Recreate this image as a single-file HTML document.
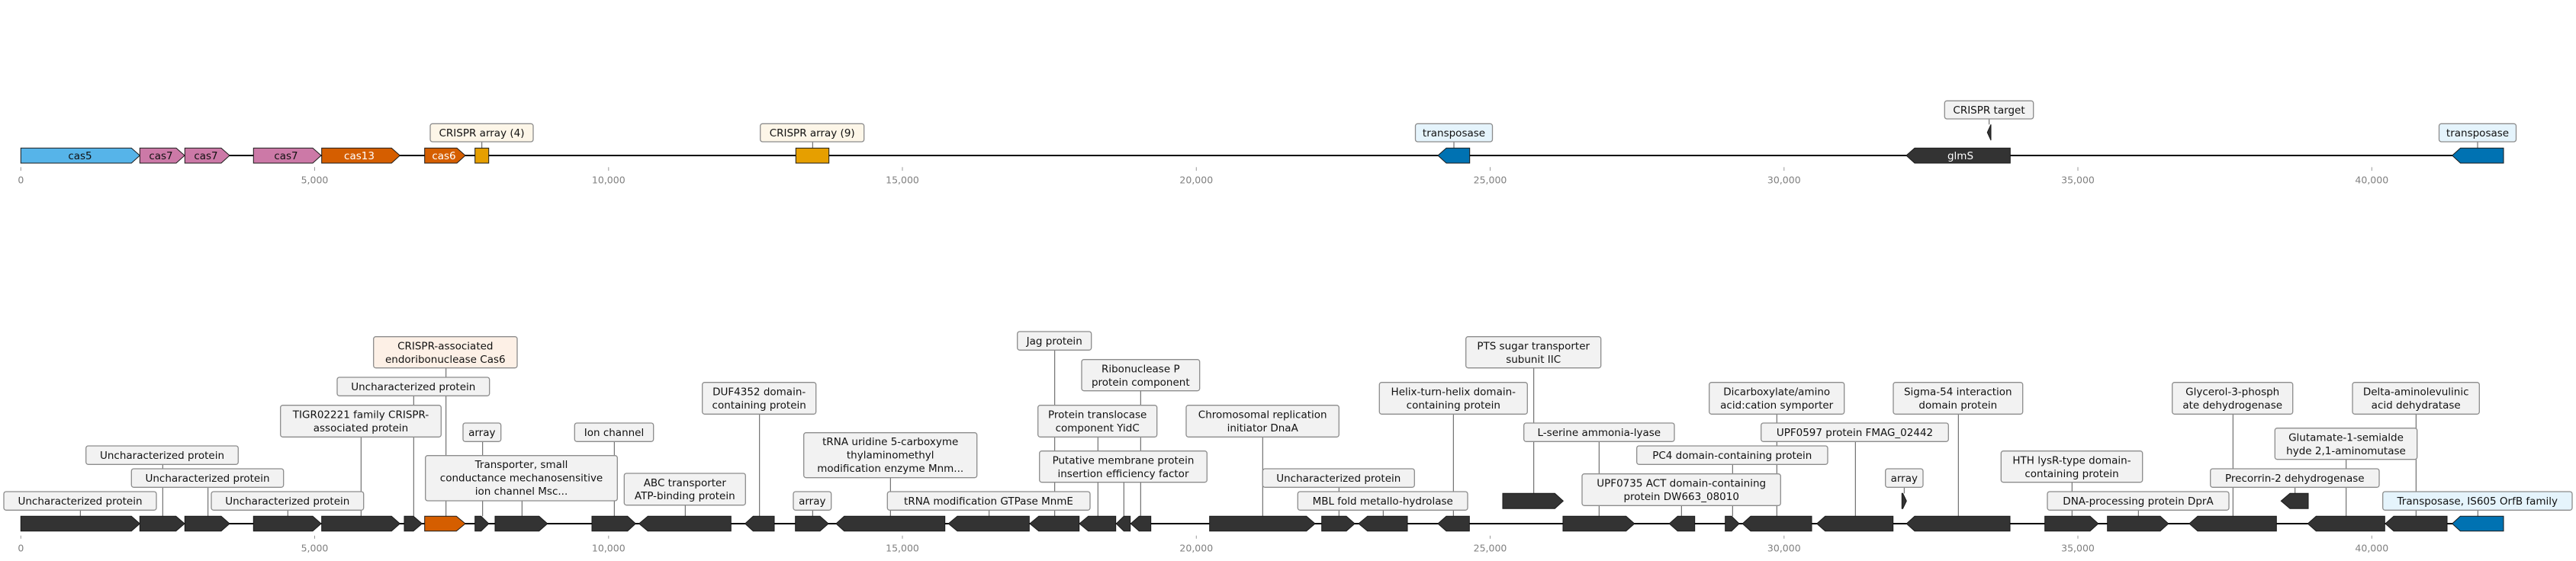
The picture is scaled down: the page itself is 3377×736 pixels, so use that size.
<!DOCTYPE html>
<html><head><meta charset="utf-8"><style>
html,body{margin:0;padding:0;background:#fff;}
svg{display:block;font-family:"DejaVu Sans","Liberation Sans",sans-serif;}
.g{stroke:#1a1a1a;stroke-width:1;}
.d{fill:#333333;}
.ld{stroke:#555;stroke-width:1;}
.bx{fill:#f2f2f2;stroke:#8c8c8c;stroke-width:1.3;}
.t{font-size:13.5px;fill:#111;text-anchor:middle;}
.tk{stroke:#999;stroke-width:1;}
.tl{font-size:12.5px;fill:#808080;text-anchor:middle;}
</style></head><body>
<svg width="3377" height="736" viewBox="0 0 3377 736" xmlns="http://www.w3.org/2000/svg">
<!-- ===== TOP TRACK ===== -->
<line x1="27.3" y1="204" x2="3282" y2="204" stroke="#000" stroke-width="2"/>
<g class="tk">
<line x1="27.3" y1="219.3" x2="27.3" y2="224"/><line x1="412.5" y1="219.3" x2="412.5" y2="224"/><line x1="797.8" y1="219.3" x2="797.8" y2="224"/><line x1="1183" y1="219.3" x2="1183" y2="224"/><line x1="1568.3" y1="219.3" x2="1568.3" y2="224"/><line x1="1953.5" y1="219.3" x2="1953.5" y2="224"/><line x1="2338.8" y1="219.3" x2="2338.8" y2="224"/><line x1="2724" y1="219.3" x2="2724" y2="224"/><line x1="3109.3" y1="219.3" x2="3109.3" y2="224"/>
</g>
<g class="tl">
<text x="27.3" y="240.5">0</text><text x="412.5" y="240.5">5,000</text><text x="797.8" y="240.5">10,000</text><text x="1183" y="240.5">15,000</text><text x="1568.3" y="240.5">20,000</text><text x="1953.5" y="240.5">25,000</text><text x="2338.8" y="240.5">30,000</text><text x="2724" y="240.5">35,000</text><text x="3109.3" y="240.5">40,000</text>
</g>
<g class="ld">
<line x1="631.7" y1="186" x2="631.7" y2="194.3"/><line x1="1065.3" y1="186" x2="1065.3" y2="194.3"/><line x1="1906" y1="186" x2="1906" y2="194.3"/><line x1="3248" y1="186" x2="3248" y2="194.3"/><line x1="2607.7" y1="156" x2="2607.7" y2="163.3"/>
</g>
<g class="g">
<polygon fill="#56b4e9" points="27.3,194.3 172.3,194.3 183.3,204 172.3,214 27.3,214"/>
<polygon fill="#cc79a7" points="183.3,194.3 231,194.3 242,204 231,214 183.3,214"/>
<polygon fill="#cc79a7" points="242.3,194.3 290,194.3 301,204 290,214 242.3,214"/>
<polygon fill="#cc79a7" points="332.3,194.3 410,194.3 421,204 410,214 332.3,214"/>
<polygon fill="#d55e00" points="421.7,194.3 513.3,194.3 524.3,204 513.3,214 421.7,214"/>
<polygon fill="#d55e00" points="556.7,194.3 599,194.3 610,204 599,214 556.7,214"/>
<rect fill="#e69f00" x="622.7" y="194.3" width="18" height="19.7"/>
<rect fill="#e69f00" x="1043.3" y="194.3" width="43.4" height="19.7"/>
<polygon fill="#0072b2" points="1885,204 1896,194.3 1926.7,194.3 1926.7,214 1896,214"/>
<polygon fill="#333" points="2499,204 2510,194.3 2635.3,194.3 2635.3,214 2510,214"/>
<polygon fill="#0072b2" points="3214.7,204 3225.5,194.3 3282,194.3 3282,214 3225.5,214"/>
<polygon fill="#333" points="2605.3,173.7 2610,163.3 2610,184"/>
</g>
<g class="t">
<text x="105" y="208.8">cas5</text>
<text x="211" y="208.8">cas7</text>
<text x="270" y="208.8">cas7</text>
<text x="375" y="208.8">cas7</text>
<text x="471" y="208.8" style="fill:#fff">cas13</text>
<text x="582" y="208.8" style="fill:#fff">cas6</text>
<text x="2570" y="208.8" style="fill:#fff">glmS</text>
</g>
<rect class="bx" style="fill:#fdf6e8" x="564" y="162.3" width="135" height="23.7" rx="3"/><text class="t" x="631.5" y="179">CRISPR array (4)</text>
<rect class="bx" style="fill:#fdf6e8" x="996.7" y="162.3" width="136" height="23.7" rx="3"/><text class="t" x="1064.7" y="179">CRISPR array (9)</text>
<rect class="bx" style="fill:#e5f4fc" x="1855.5" y="162.3" width="101" height="23.7" rx="3"/><text class="t" x="1906" y="179">transposase</text>
<rect class="bx" style="fill:#e5f4fc" x="3197.5" y="162.3" width="101" height="23.7" rx="3"/><text class="t" x="3248" y="179">transposase</text>
<rect class="bx" x="2549.3" y="132.3" width="116.4" height="23.7" rx="3"/><text class="t" x="2607.5" y="149">CRISPR target</text>

<!-- ===== BOTTOM TRACK ===== -->
<line x1="27.3" y1="687" x2="3282" y2="687" stroke="#000" stroke-width="2"/>
<g class="tk">
<line x1="27.3" y1="702.7" x2="27.3" y2="706.7"/><line x1="412.5" y1="702.7" x2="412.5" y2="706.7"/><line x1="797.8" y1="702.7" x2="797.8" y2="706.7"/><line x1="1183" y1="702.7" x2="1183" y2="706.7"/><line x1="1568.3" y1="702.7" x2="1568.3" y2="706.7"/><line x1="1953.5" y1="702.7" x2="1953.5" y2="706.7"/><line x1="2338.8" y1="702.7" x2="2338.8" y2="706.7"/><line x1="2724" y1="702.7" x2="2724" y2="706.7"/><line x1="3109.3" y1="702.7" x2="3109.3" y2="706.7"/>
</g>
<g class="tl">
<text x="27.3" y="723.5">0</text><text x="412.5" y="723.5">5,000</text><text x="797.8" y="723.5">10,000</text><text x="1183" y="723.5">15,000</text><text x="1568.3" y="723.5">20,000</text><text x="1953.5" y="723.5">25,000</text><text x="2338.8" y="723.5">30,000</text><text x="2724" y="723.5">35,000</text><text x="3109.3" y="723.5">40,000</text>
</g>
<!-- leaders -->
<g class="ld">
<line x1="105.3" y1="669.3" x2="105.3" y2="677.3"/>
<line x1="213.3" y1="609.3" x2="213.3" y2="677.3"/>
<line x1="272.7" y1="639.3" x2="272.7" y2="677.3"/>
<line x1="377.3" y1="669.3" x2="377.3" y2="677.3"/>
<line x1="473.3" y1="573.3" x2="473.3" y2="677.3"/>
<line x1="542.3" y1="519.3" x2="542.3" y2="677.3"/>
<line x1="584.7" y1="482.7" x2="584.7" y2="677.3"/>
<line x1="632.7" y1="579.3" x2="632.7" y2="677.3"/>
<line x1="684.3" y1="657" x2="684.3" y2="677.3"/>
<line x1="805.3" y1="579.3" x2="805.3" y2="677.3"/>
<line x1="898.3" y1="662.7" x2="898.3" y2="677.3"/>
<line x1="995.7" y1="543.3" x2="995.7" y2="677.3"/>
<line x1="1065.3" y1="669.3" x2="1065.3" y2="677.3"/>
<line x1="1167.3" y1="626.7" x2="1167.3" y2="677.3"/>
<line x1="1296.7" y1="669.3" x2="1296.7" y2="677.3"/>
<line x1="1382.7" y1="459.3" x2="1382.7" y2="677.3"/>
<line x1="1439.3" y1="573.3" x2="1439.3" y2="677.3"/>
<line x1="1473.3" y1="632.7" x2="1473.3" y2="677.3"/>
<line x1="1495.3" y1="512.7" x2="1495.3" y2="677.3"/>
<line x1="1655.3" y1="573.3" x2="1655.3" y2="677.3"/>
<line x1="1755.3" y1="639.3" x2="1755.3" y2="677.3"/>
<line x1="1813.3" y1="669.3" x2="1813.3" y2="677.3"/>
<line x1="1905.3" y1="543.3" x2="1905.3" y2="677.3"/>
<line x1="2010.7" y1="482.7" x2="2010.7" y2="647.3"/>
<line x1="2096.3" y1="579.3" x2="2096.3" y2="677.3"/>
<line x1="2329.3" y1="543.3" x2="2329.3" y2="677.3"/>
<line x1="2432.3" y1="579.3" x2="2432.3" y2="677.3"/>
<line x1="2271.3" y1="609.3" x2="2271.3" y2="677.3"/>
<line x1="2204.3" y1="663.3" x2="2204.3" y2="677.3"/>
<line x1="2496.3" y1="639.3" x2="2496.3" y2="647.3"/>
<line x1="2567.3" y1="543.3" x2="2567.3" y2="677.3"/>
<line x1="2716.3" y1="632.7" x2="2716.3" y2="677.3"/>
<line x1="2803.3" y1="669.3" x2="2803.3" y2="677.3"/>
<line x1="2927.3" y1="543.3" x2="2927.3" y2="677.3"/>
<line x1="3008.7" y1="639.3" x2="3008.7" y2="647.3"/>
<line x1="3075.7" y1="602.7" x2="3075.7" y2="677.3"/>
<line x1="3167.3" y1="543.3" x2="3167.3" y2="677.3"/>
<line x1="3248.3" y1="669.3" x2="3248.3" y2="677.3"/>
</g>
<!-- genes -->
<g class="g d">
<polygon points="27.3,677.3 172.3,677.3 183.3,687 172.3,696.7 27.3,696.7"/>
<polygon points="183.3,677.3 230.7,677.3 242,687 230.7,696.7 183.3,696.7"/>
<polygon points="242.3,677.3 290,677.3 301,687 290,696.7 242.3,696.7"/>
<polygon points="332.3,677.3 410,677.3 421,687 410,696.7 332.3,696.7"/>
<polygon points="421.7,677.3 513.3,677.3 524.3,687 513.3,696.7 421.7,696.7"/>
<polygon points="530,677.3 542,677.3 553.3,687 542,696.7 530,696.7"/>
<polygon style="fill:#d55e00" points="556.7,677.3 598.3,677.3 610,687 598.3,696.7 556.7,696.7"/>
<polygon points="622.7,677.3 630.7,677.3 640.7,687 630.7,696.7 622.7,696.7"/>
<polygon points="649,677.3 706.7,677.3 717.7,687 706.7,696.7 649,696.7"/>
<polygon points="776,677.3 822.7,677.3 833.3,687 822.7,696.7 776,696.7"/>
<polygon points="837.7,687 849.3,677.3 958.3,677.3 958.3,696.7 849.3,696.7"/>
<polygon points="976.7,687 987.3,677.3 1015,677.3 1015,696.7 987.3,696.7"/>
<polygon points="1042.7,677.3 1075,677.3 1086,687 1075,696.7 1042.7,696.7"/>
<polygon points="1096,687 1106.7,677.3 1238.7,677.3 1238.7,696.7 1106.7,696.7"/>
<polygon points="1243.3,687 1255,677.3 1349.3,677.3 1349.3,696.7 1255,696.7"/>
<polygon points="1350,687 1361.7,677.3 1414.7,677.3 1414.7,696.7 1361.7,696.7"/>
<polygon points="1415,687 1426.7,677.3 1462.7,677.3 1462.7,696.7 1426.7,696.7"/>
<polygon points="1463.3,687 1473.3,677.3 1481.7,677.3 1481.7,696.7 1473.3,696.7"/>
<polygon points="1482.3,687 1493.3,677.3 1508.7,677.3 1508.7,696.7 1493.3,696.7"/>
<polygon points="1585.7,677.3 1712.7,677.3 1724,687 1712.7,696.7 1585.7,696.7"/>
<polygon points="1732.7,677.3 1765,677.3 1776,687 1765,696.7 1732.7,696.7"/>
<polygon points="1781,687 1792.7,677.3 1845,677.3 1845,696.7 1792.7,696.7"/>
<polygon points="1885,687 1896,677.3 1926.3,677.3 1926.3,696.7 1896,696.7"/>
<polygon points="1970,647.3 2038.3,647.3 2049.3,657.3 2038.3,667.3 1970,667.3"/>
<polygon points="2049,677.3 2131.7,677.3 2142.7,687 2131.7,696.7 2049,696.7"/>
<polygon points="2188.3,687 2199.3,677.3 2221.7,677.3 2221.7,696.7 2199.3,696.7"/>
<polygon points="2261.7,677.3 2270,677.3 2280,687 2270,696.7 2261.7,696.7"/>
<polygon points="2284.3,687 2295,677.3 2375,677.3 2375,696.7 2295,696.7"/>
<polygon points="2381.7,687 2392.7,677.3 2481.7,677.3 2481.7,696.7 2392.7,696.7"/>
<polygon points="2493.3,647.3 2494.5,647.3 2499.3,657.3 2494.5,667.3 2493.3,667.3"/>
<polygon points="2499.3,687 2510,677.3 2635,677.3 2635,696.7 2510,696.7"/>
<polygon points="2680.7,677.3 2740,677.3 2750.7,687 2740,696.7 2680.7,696.7"/>
<polygon points="2762.7,677.3 2832,677.3 2842.7,687 2832,696.7 2762.7,696.7"/>
<polygon points="2870,687 2881,677.3 2984.3,677.3 2984.3,696.7 2881,696.7"/>
<polygon points="2990.3,657.3 3002,647.3 3026,647.3 3026,667.3 3002,667.3"/>
<polygon points="3025.3,687 3036.3,677.3 3126.3,677.3 3126.3,696.7 3036.3,696.7"/>
<polygon points="3127,687 3138,677.3 3208,677.3 3208,696.7 3138,696.7"/>
<polygon style="fill:#0072b2" points="3214.7,687 3225.3,677.3 3282,677.3 3282,696.7 3225.3,696.7"/>
</g>
<!-- boxes -->
<g>
<rect class="bx" x="5" y="645" width="200" height="24.3" rx="3"/><text class="t" x="105" y="662">Uncharacterized protein</text>
<rect class="bx" x="112.7" y="585" width="199.6" height="24.3" rx="3"/><text class="t" x="212.5" y="602">Uncharacterized protein</text>
<rect class="bx" x="172.3" y="615" width="199.4" height="24.3" rx="3"/><text class="t" x="272" y="632">Uncharacterized protein</text>
<rect class="bx" x="277" y="645" width="199.7" height="24.3" rx="3"/><text class="t" x="376.8" y="662">Uncharacterized protein</text>
<rect class="bx" x="367.7" y="531.7" width="210.6" height="41.6" rx="3"/><text class="t" x="473" y="548.5">TIGR02221 family CRISPR-<tspan x="473" dy="17.3">associated protein</tspan></text>
<rect class="bx" x="442" y="495" width="199.7" height="24.3" rx="3"/><text class="t" x="541.8" y="512">Uncharacterized protein</text>
<rect class="bx" style="fill:#fdf0e6" x="489.7" y="441.7" width="188.3" height="41" rx="3"/><text class="t" x="583.8" y="458.5">CRISPR-associated<tspan x="583.8" dy="17.3">endoribonuclease Cas6</tspan></text>
<rect class="bx" x="607" y="555" width="49.7" height="24.3" rx="3"/><text class="t" x="631.8" y="572">array</text>
<rect class="bx" x="557.7" y="597.7" width="251.6" height="59.3" rx="3"/><text class="t" x="683.5" y="614">Transporter, small<tspan x="683.5" dy="17.4">conductance mechanosensitive</tspan><tspan x="683.5" dy="17.4">ion channel Msc...</tspan></text>
<rect class="bx" x="753.3" y="555" width="103.4" height="24.3" rx="3"/><text class="t" x="805" y="572">Ion channel</text>
<rect class="bx" x="818.3" y="621" width="159" height="41.7" rx="3"/><text class="t" x="897.8" y="637.8">ABC transporter<tspan x="897.8" dy="17.3">ATP-binding protein</tspan></text>
<rect class="bx" x="920.7" y="501.7" width="149" height="41.6" rx="3"/><text class="t" x="995.2" y="518.5">DUF4352 domain-<tspan x="995.2" dy="17.3">containing protein</tspan></text>
<rect class="bx" x="1040" y="645" width="49.7" height="24.3" rx="3"/><text class="t" x="1064.8" y="662">array</text>
<rect class="bx" x="1053.7" y="567.7" width="227" height="59" rx="3"/><text class="t" x="1167.2" y="584">tRNA uridine 5-carboxyme<tspan x="1167.2" dy="17.4">thylaminomethyl</tspan><tspan x="1167.2" dy="17.4">modification enzyme Mnm...</tspan></text>
<rect class="bx" x="1163.3" y="645" width="265.7" height="24.3" rx="3"/><text class="t" x="1296" y="662">tRNA modification GTPase MnmE</text>
<rect class="bx" x="1333.7" y="435" width="97" height="24.3" rx="3"/><text class="t" x="1382.2" y="452">Jag protein</text>
<rect class="bx" x="1418" y="471.7" width="154.7" height="41" rx="3"/><text class="t" x="1495.3" y="488.5">Ribonuclease P<tspan x="1495.3" dy="17.3">protein component</tspan></text>
<rect class="bx" x="1360.7" y="531.7" width="156" height="41.6" rx="3"/><text class="t" x="1438.7" y="548.5">Protein translocase<tspan x="1438.7" dy="17.3">component YidC</tspan></text>
<rect class="bx" x="1362.7" y="591.7" width="219.6" height="41" rx="3"/><text class="t" x="1472.5" y="608.5">Putative membrane protein<tspan x="1472.5" dy="17.3">insertion efficiency factor</tspan></text>
<rect class="bx" x="1555" y="531.7" width="200.3" height="41.6" rx="3"/><text class="t" x="1655.2" y="548.5">Chromosomal replication<tspan x="1655.2" dy="17.3">initiator DnaA</tspan></text>
<rect class="bx" x="1655.3" y="615" width="199" height="24.3" rx="3"/><text class="t" x="1754.8" y="632">Uncharacterized protein</text>
<rect class="bx" x="1701.3" y="645" width="222.7" height="24.3" rx="3"/><text class="t" x="1812.7" y="662">MBL fold metallo-hydrolase</text>
<rect class="bx" x="1808.3" y="501.7" width="194" height="41.6" rx="3"/><text class="t" x="1905.3" y="518.5">Helix-turn-helix domain-<tspan x="1905.3" dy="17.3">containing protein</tspan></text>
<rect class="bx" x="1921.7" y="441.7" width="177" height="41" rx="3"/><text class="t" x="2010.2" y="458.5">PTS sugar transporter<tspan x="2010.2" dy="17.3">subunit IIC</tspan></text>
<rect class="bx" x="1997.7" y="555" width="197.3" height="24.3" rx="3"/><text class="t" x="2096.3" y="572">L-serine ammonia-lyase</text>
<rect class="bx" x="2240.7" y="501.7" width="177" height="41.6" rx="3"/><text class="t" x="2329.2" y="518.5">Dicarboxylate/amino<tspan x="2329.2" dy="17.3">acid:cation symporter</tspan></text>
<rect class="bx" x="2308.7" y="555" width="245.6" height="24.3" rx="3"/><text class="t" x="2431.5" y="572">UPF0597 protein FMAG_02442</text>
<rect class="bx" x="2145.7" y="585" width="250.3" height="24.3" rx="3"/><text class="t" x="2270.8" y="602">PC4 domain-containing protein</text>
<rect class="bx" x="2074" y="621.7" width="260.3" height="41.6" rx="3"/><text class="t" x="2204.2" y="638.5">UPF0735 ACT domain-containing<tspan x="2204.2" dy="17.3">protein DW663_08010</tspan></text>
<rect class="bx" x="2471.7" y="615" width="49.3" height="24.3" rx="3"/><text class="t" x="2496.3" y="632">array</text>
<rect class="bx" x="2482" y="501.7" width="169.7" height="41.6" rx="3"/><text class="t" x="2566.8" y="518.5">Sigma-54 interaction<tspan x="2566.8" dy="17.3">domain protein</tspan></text>
<rect class="bx" x="2623.3" y="591.7" width="185.4" height="41" rx="3"/><text class="t" x="2716" y="608.5">HTH lysR-type domain-<tspan x="2716" dy="17.3">containing protein</tspan></text>
<rect class="bx" x="2684" y="645" width="238" height="24.3" rx="3"/><text class="t" x="2803" y="662">DNA-processing protein DprA</text>
<rect class="bx" x="2847.7" y="501.7" width="158" height="41.6" rx="3"/><text class="t" x="2926.7" y="518.5">Glycerol-3-phosph<tspan x="2926.7" dy="17.3">ate dehydrogenase</tspan></text>
<rect class="bx" x="2897.7" y="615" width="221.3" height="24.3" rx="3"/><text class="t" x="3008.3" y="632">Precorrin-2 dehydrogenase</text>
<rect class="bx" x="2982.3" y="561.7" width="186.4" height="41" rx="3"/><text class="t" x="3075.5" y="578.5">Glutamate-1-semialde<tspan x="3075.5" dy="17.3">hyde 2,1-aminomutase</tspan></text>
<rect class="bx" x="3084" y="501.7" width="166.3" height="41.6" rx="3"/><text class="t" x="3167.2" y="518.5">Delta-aminolevulinic<tspan x="3167.2" dy="17.3">acid dehydratase</tspan></text>
<rect class="bx" style="fill:#e5f4fc" x="3123.7" y="645" width="248.3" height="24.3" rx="3"/><text class="t" x="3247.8" y="662">Transposase, IS605 OrfB family</text>
</g>
</svg>
</body></html>
